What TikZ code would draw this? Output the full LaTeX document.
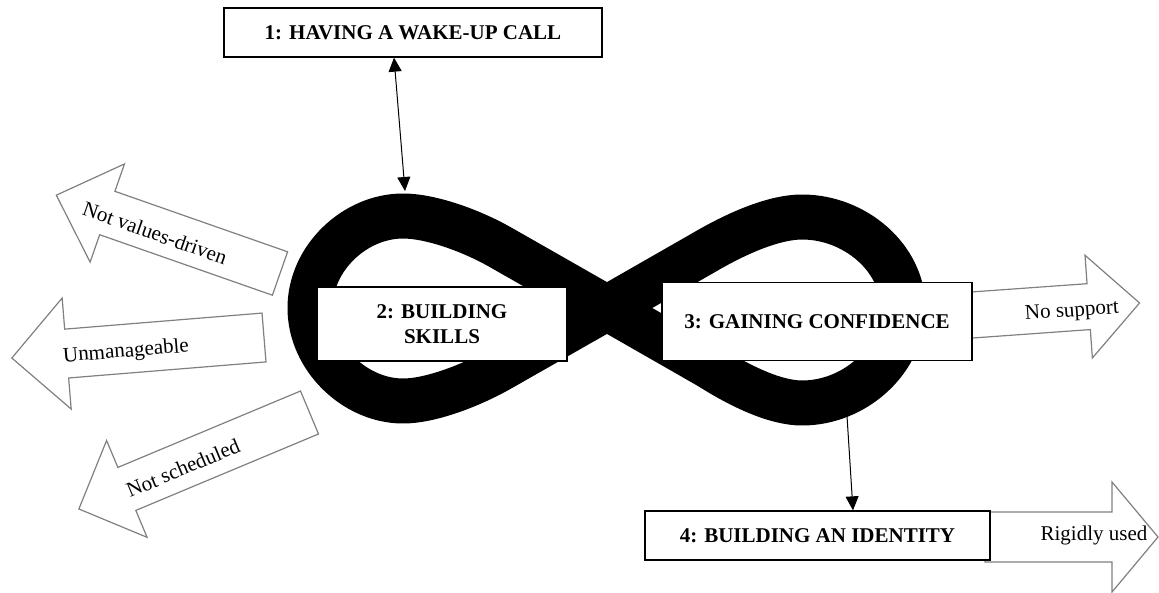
\documentclass[tikz,border=0pt]{standalone}
\usepackage{fontspec}
\setmainfont{Liberation Serif}
\usetikzlibrary{arrows.meta,calc}
\newcommand\blockarr[7]{%
  \draw[barrow,shift={(#1,#2)},rotate=#3] (0,#5) -- (#4,#5) -- (#4,#7) -- ({#4+#6},0) -- (#4,-#7) -- (#4,-#5) -- (0,-#5) -- cycle;}
\begin{document}
\begin{tikzpicture}[x=1pt,y=-1pt,
  stage/.style={draw=black,line width=1.3pt,fill=white,font=\bfseries\fontsize{21}{25}\selectfont,align=center,inner sep=0pt},
  barrow/.style={draw=black!50,line width=1.2pt,fill=white},
  blabel/.style={font=\fontsize{21}{25}\selectfont,inner sep=0pt},
  conn/.style={line width=1pt,-{Triangle[length=14pt,width=13pt]}},
  band/.style={line width=45pt,line join=round,draw=black}
]
\useasboundingbox (0,0) rectangle (1159,592);

% infinity band
\draw[band] (607,308) -- (500,247) .. controls (470,230) and (430,216) .. (403,216)
  .. controls (355,216) and (310,258) .. (310,308)
  .. controls (310,358) and (355,401) .. (403,401)
  .. controls (430,401) and (470,386) .. (500,369) -- (607,308)
  -- (710,249) .. controls (740,232) and (775,217) .. (802,217)
  .. controls (855,217) and (903,258) .. (903,308)
  .. controls (903,360) and (855,403) .. (802,403)
  .. controls (775,403) and (740,386) .. (710,367) -- cycle;

% block arrows
\blockarr{280}{273.5}{160.7}{183}{23}{54}{52}
\blockarr{264}{337.5}{184.65}{198}{24.5}{55}{55.7}
\blockarr{309.5}{412.5}{202.7}{198}{23.3}{52}{52.5}
\blockarr{965}{315.5}{4.1}{124}{23}{51}{51.5}
\blockarr{985}{537}{0}{127}{25}{46}{55}

% stage boxes
\node[stage,minimum width=378pt,minimum height=49pt] (b1) at (413,32.5) {1: HAVING A WAKE-UP CALL};
\node[stage,minimum width=250pt,minimum height=74pt] (b2) at (442,324) {2: BUILDING\\SKILLS};
\node[stage,minimum width=310pt,minimum height=78pt] (b3) at (817,321.5) {3: GAINING CONFIDENCE};
\node[stage,minimum width=345pt,minimum height=49pt] (b4) at (817.5,535.5) {4: BUILDING AN IDENTITY};

% labels
\node[blabel,rotate=-19.3] (l1) at (155,233) {Not values-driven};
\node[blabel,rotate=4.65] (l2) at (126,352) {Unmanageable};
\node[blabel,rotate=22.7] (l3) at (183,468) {Not scheduled};
\node[blabel,rotate=4] (l4) at (1072,312) {No support};
\node[blabel] (l5) at (1094,535) {Rigidly used};

% connectors
\coordinate (ltop) at (405,191);
\coordinate (lbot) at (847,416);
\draw[line width=1pt,{Triangle[length=14pt,width=13pt]}-{Triangle[length=14pt,width=13pt]}] ([xshift=-19pt]b1.south) -- (ltop);
\draw[conn] (lbot) -- ([xshift=35.5pt]b4.north);
\end{tikzpicture}
\end{document}
